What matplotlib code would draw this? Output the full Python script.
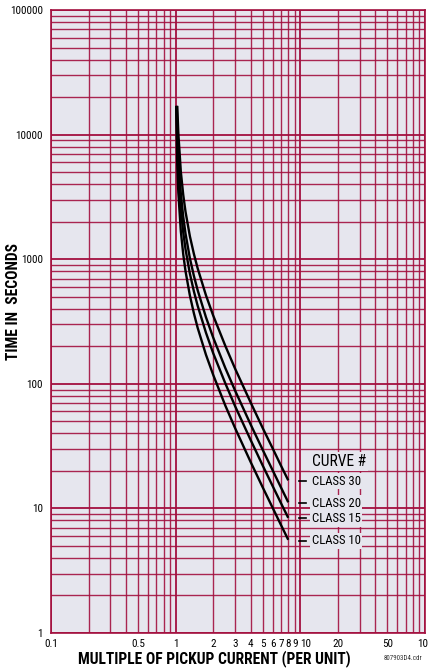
import matplotlib
matplotlib.use("Agg")
import matplotlib.pyplot as plt
from matplotlib import font_manager


def weight_num(w):
    if isinstance(w, (int, float)):
        return int(w)
    return {"bold": 700, "heavy": 800, "black": 900, "semibold": 600,
            "demibold": 600, "medium": 500}.get(str(w).lower(), 400)


fonts = font_manager.fontManager.ttflist
names = {f.name for f in fonts}
bold_names = {f.name for f in fonts if weight_num(f.weight) >= 700 and f.style == "normal"}

narrow_pref = ["Roboto Condensed", "Archivo Narrow", "Liberation Sans Narrow",
               "Asap Condensed", "Barlow Semi Condensed"]
font_reg = next((n for n in narrow_pref if n in names), "Liberation Sans")
font_bold = next((n for n in narrow_pref if n in bold_names), "Liberation Sans")
plt.rcParams["font.family"] = [font_reg, "DejaVu Sans"]

# curve data (multiple of pickup, seconds)
x_c10 = [1.010, 1.03, 1.05, 1.10, 1.15, 1.20, 1.30, 1.40, 1.50, 1.75, 2.0, 2.5, 3.0, 4.0, 5.0, 6.0, 7.0, 8.0]
t_c10 = [17000, 5800, 3440, 1680, 1095, 800, 512, 368, 282, 171, 118, 67, 44, 23.5, 14.7, 10.1, 7.35, 5.6]

x_c15 = [1.015, 1.03, 1.05, 1.10, 1.15, 1.20, 1.30, 1.40, 1.50, 1.75, 2.0, 2.5, 3.0, 4.0, 5.0, 6.0, 7.0, 8.0]
t_c15 = [17000, 8700, 5170, 2520, 1642, 1200, 767, 552, 424, 257, 176, 101, 66, 35.3, 22, 15.1, 11, 8.4]

x_c20 = [1.020, 1.03, 1.05, 1.10, 1.15, 1.20, 1.30, 1.40, 1.50, 1.75, 2.0, 2.5, 3.0, 4.0, 5.0, 6.0, 7.0, 8.0]
t_c20 = [17000, 11600, 6890, 3360, 2189, 1600, 1020, 735, 565, 342, 235, 134, 88, 47, 29.4, 20.2, 14.7, 11.2]

x_c30 = [1.030, 1.05, 1.10, 1.15, 1.20, 1.30, 1.40, 1.50, 1.75, 2.0, 2.5, 3.0, 4.0, 5.0, 6.0, 7.0, 8.0]
t_c30 = [17000, 10330, 5040, 3284, 2400, 1530, 1103, 847, 513, 353, 202, 132, 70.6, 44, 30.3, 22, 16.8]

curve_names = ["CLASS 30", "CLASS 20", "CLASS 15", "CLASS 10"]
label_y = [16.5, 11, 8.3, 5.5]

x_major = [0.1, 1, 10, 100]
x_major_labels = ["0.1", "1", "10", "100"]
x_minor = [0.2, 0.3, 0.4, 0.5, 0.6, 0.7, 0.8, 0.9,
           2, 3, 4, 5, 6, 7, 8, 9,
           20, 30, 40, 50, 60, 70, 80, 90]
x_minor_labels = ["", "", "", "0.5", "", "", "", "",
                  "2", "3", "4", "5", "6", "7", "8", "9",
                  "20", "", "", "50", "", "", "", ""]
y_major = [1, 10, 100, 1000, 10000, 100000]
y_major_labels = ["1", "10", "100", "1000", "10000", "100000"]

bg = "#e6e6ee"
red = "#a3103f"

fig = plt.figure(figsize=(4.28, 6.69), dpi=100)
ax = fig.add_axes([51 / 428, 1 - 633 / 669, 374 / 428, 623 / 669])
ax.set_facecolor(bg)
ax.set_xscale("log")
ax.set_yscale("log")
ax.set_xlim(0.1, 100)
ax.set_ylim(1, 100000)

ax.set_xticks(x_major, x_major_labels)
ax.set_xticks(x_minor, x_minor_labels, minor=True)
ax.set_yticks(y_major, y_major_labels)
y_minor = [m * d for d in [1, 10, 100, 1000, 10000] for m in range(2, 10)]
ax.set_yticks(y_minor, [""] * len(y_minor), minor=True)

ax.tick_params(which="both", length=0, labelsize=8)
ax.tick_params(axis="x", which="both", pad=4)
ax.tick_params(axis="y", which="both", pad=6)
# the "10" label sits just right of its line, as in the original
ax.xaxis.get_major_ticks()[2].label1.set_horizontalalignment("left")

ax.grid(which="major", color=red, linewidth=1.3)
ax.grid(which="minor", color=red, linewidth=1.0, alpha=0.9)
ax.set_axisbelow(True)
for s in ax.spines.values():
    s.set_color(red)
    s.set_linewidth(1.2)

for xs, ts in [(x_c10, t_c10), (x_c15, t_c15), (x_c20, t_c20), (x_c30, t_c30)]:
    ax.plot(xs, ts, color="black", linewidth=1.7, solid_capstyle="butt", zorder=3)

ax.text(12.3, 23.8, "CURVE #", fontsize=11.2, va="center", ha="left", zorder=4,
        bbox=dict(facecolor=bg, edgecolor="none", pad=1.5))
for name, yv in zip(curve_names, label_y):
    ax.plot([9.7, 11.2], [yv, yv], color="black", linewidth=1.2, zorder=4)
    ax.text(12.3, yv, name, fontsize=9.2, va="center", ha="left", zorder=4,
            bbox=dict(facecolor=bg, edgecolor="none", pad=1.2))

fig.text(214 / 428, 1 - 659 / 669, "MULTIPLE OF PICKUP CURRENT (PER UNIT)",
         fontsize=11.2, fontweight="bold", family=[font_bold, "DejaVu Sans"],
         ha="center", va="center")
fig.text(14 / 428, 1 - 301 / 669, "TIME IN  SECONDS", rotation=90,
         fontsize=11.2, fontweight="bold", family=[font_bold, "DejaVu Sans"],
         ha="center", va="center")
fig.text(403 / 428, 1 - 659 / 669, "807903D4.cdr", fontsize=5,
         ha="center", va="center", color="#333333")

fig.savefig("out.png", dpi=100)
